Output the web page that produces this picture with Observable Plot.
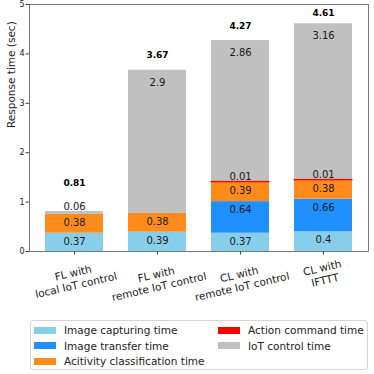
<!DOCTYPE html>
<html><head><meta charset="utf-8">
<script src="https://cdn.jsdelivr.net/npm/d3@7"></script>
<script src="https://cdn.jsdelivr.net/npm/@observablehq/plot@0.6"></script>
<style>
body{margin:0;background:#fff;font-family:"DejaVu Sans",sans-serif;}
#wrap{position:relative;width:374px;height:374px;overflow:hidden;}
#wrap svg{display:block;}
.legend{position:absolute;left:30px;top:320px;width:338px;height:50px;border:1px solid #d4d4d4;border-radius:3px;box-sizing:border-box;background:#fff;}
.item{position:absolute;font-size:10.5px;line-height:12px;color:#222;white-space:nowrap;}
.sw{position:absolute;width:22px;height:7px;}
</style></head><body><div id="wrap"></div>
<script>
// ---- data ----
const categories = ["FL with\nlocal IoT control", "FL with\nremote IoT control", "CL with\nremote IoT control", "CL with\nIFTTT"];
const seriesNames = ["Image capturing time", "Image transfer time", "Acitivity classification time", "Action command time", "IoT control time"];
const seriesColors = ["#87ceeb", "#1e90ff", "#ff8c1a", "#ff0000", "#c0c0c0"];
const captureTime = [0.37, 0.39, 0.37, 0.4];
const transferTime = [0, 0, 0.64, 0.66];
const classificationTime = [0.38, 0.38, 0.39, 0.38];
const actionTime = [0, 0, 0.01, 0.01];
const iotTime = [0.06, 2.9, 2.86, 3.16];
const totals = [0.81, 3.67, 4.27, 4.61];
const yTicks = [0, 1, 2, 3, 4, 5];
const legendColumns = [[0, 1, 2], [3, 4]];

// ---- build stacked rows ----
const seriesValues = [captureTime, transferTime, classificationTime, actionTime, iotTime];
const rows = [];
categories.forEach((c, i) => {
  let base = 0;
  seriesValues.forEach((vals, s) => {
    const v = vals[i];
    rows.push({cat: c, series: seriesNames[s], value: v, y1: base, y2: base + v, idx: i});
    base += v;
  });
});
const drawn = rows.filter(r => r.value > 0);
const segLabels = drawn.map(r => ({
  ...r,
  ly: r.value >= 1 ? r.y2 - 0.25 : r.value < 0.1 ? r.y2 + 0.1 : r.y2 - 0.17
}));
const totalLabels = categories.map((c, i) => {
  const top = drawn.filter(r => r.idx === i).slice(-1)[0];
  let ly = totals[i] + 0.3;
  if (top.value < 0.1) ly += 0.27;
  return {cat: c, total: totals[i], ly: Math.min(ly, 4.82)};
});

// ---- x label offsets (matplotlib-like rotated bbox top alignment) ----
const canvas = document.createElement("canvas");
const ctx = canvas.getContext("2d");
const xFont = 10.5, xLine = 1.2, theta = 13 * Math.PI / 180;
ctx.font = `${xFont}px "DejaVu Sans"`;
function labelDy(c) {
  const lines = c.split("\n");
  const w = Math.max(...lines.map(l => ctx.measureText(l).width));
  const h = lines.length * xFont * xLine;
  return 5.5 + (w * Math.sin(theta) + h * Math.cos(theta)) / 2;
}

const W = 374, H = 316;
const chart = Plot.plot({
  width: W, height: H,
  marginTop: 4, marginBottom: 65, marginLeft: 29, marginRight: 6,
  style: {fontFamily: "DejaVu Sans", background: "white", overflow: "visible"},
  x: {domain: categories, paddingInner: 0.3, paddingOuter: 0.19, axis: null},
  y: {domain: [0, 5], axis: null},
  color: {domain: seriesNames, range: seriesColors},
  marks: [
    Plot.barY(drawn.filter(r => r.series !== seriesNames[3]), {x: "cat", y1: "y1", y2: "y2", fill: "series"}),
    Plot.barY(drawn.filter(r => r.series === seriesNames[3]), {x: "cat", y1: "y1", y2: "y2", fill: "series", stroke: "series", strokeWidth: 0.9}),
    Plot.text(segLabels, {x: "cat", y: "ly", text: d => String(d.value), fontSize: 10, fill: "#1a1a1a"}),
    Plot.text(totalLabels, {x: "cat", y: "ly", text: d => String(d.total), fontSize: 9, fontWeight: "bold", fill: "#000"}),
    Plot.axisY(yTicks, {tickSize: 3.5, tickPadding: 1.5, fontSize: 8, label: null, stroke: "#444", fill: "#222"}),
    Plot.axisX({tickSize: 3.5, tickFormat: () => "", label: null, stroke: "#444"}),
    Plot.frame({stroke: "#555", strokeWidth: 0.8}),
    Plot.text(["Response time (sec)"], {frameAnchor: "left", dx: -18, rotate: -90, fontSize: 10.5, fill: "#222"}),
    ...categories.map(c => Plot.text([c], {
      x: d => d, frameAnchor: "bottom", dy: labelDy(c), rotate: -13,
      fontSize: xFont, lineHeight: xLine, fill: "#222", textAnchor: "middle", lineAnchor: "middle"
    }))
  ]
});
const wrap = document.getElementById("wrap");
wrap.appendChild(chart);

// ---- legend ----
const legend = document.createElement("div");
legend.className = "legend";
const colX = [3, 187];
legendColumns.forEach((col, ci) => {
  col.forEach((s, ri) => {
    const top = 3 + ri * 15.5;
    const sw = document.createElement("div");
    sw.className = "sw";
    sw.style.left = colX[ci] + "px";
    sw.style.top = (top + 2.5) + "px";
    sw.style.background = seriesColors[s];
    legend.appendChild(sw);
    const t = document.createElement("div");
    t.className = "item";
    t.style.left = (colX[ci] + 30) + "px";
    t.style.top = top + "px";
    t.textContent = seriesNames[s];
    legend.appendChild(t);
  });
});
wrap.appendChild(legend);
</script></body></html>
